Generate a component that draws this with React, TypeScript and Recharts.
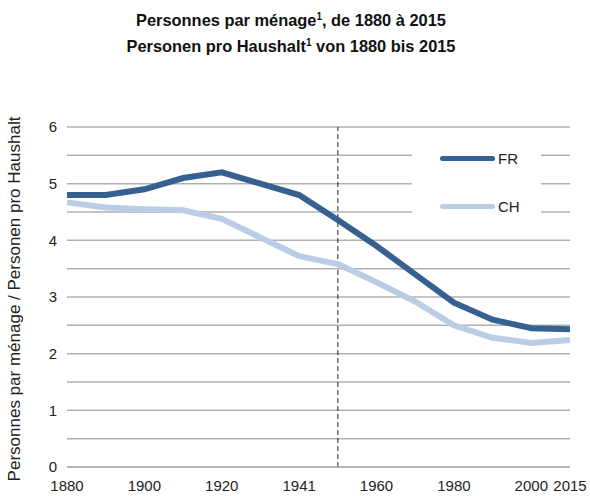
import { CartesianGrid, Line, LineChart, ReferenceLine, XAxis, YAxis } from 'recharts';

const years = ['1880', '1888', '1900', '1910', '1920', '1930', '1941', '1950', '1960', '1970', '1980', '1990', '2000', '2015'];
const frValues = [4.8, 4.8, 4.9, 5.1, 5.2, 5.0, 4.8, 4.36, 3.9, 3.4, 2.9, 2.6, 2.45, 2.43];
const chValues = [4.67, 4.58, 4.55, 4.53, 4.38, 4.05, 3.72, 3.58, 3.26, 2.92, 2.5, 2.28, 2.19, 2.24];
const xTicks = ['1880', '1900', '1920', '1941', '1960', '1980', '2000', '2015'];
const yTicks = [0, 1, 2, 3, 4, 5, 6];
const gridValues = [0, 0.5, 1, 1.5, 2, 2.5, 3, 3.5, 4, 4.5, 5, 5.5, 6];
const markerYear = '1950';
const legendItems = [
  { name: 'FR', color: '#35608f' },
  { name: 'CH', color: '#b9cde5' },
];

const FR_COLOR = legendItems[0].color;
const CH_COLOR = legendItems[1].color;
const FONT = '"Liberation Sans", Arial, sans-serif';

const data = years.map((year, i) => ({ year, FR: frValues[i], CH: chValues[i] }));

const LegendBox = () => (
  <div style={{ position: 'absolute', left: 412, top: 135, width: 129, height: 88, background: '#fff', fontSize: 15, color: '#222' }}>
    {legendItems.map((item, i) => (
      <div key={item.name} style={{ position: 'absolute', left: 28, top: 23 + i * 48 - 9, height: 18, display: 'flex', alignItems: 'center' }}>
        <div style={{ width: 55, height: 5, borderRadius: 3, background: item.color }} />
        <span style={{ marginLeft: 3 }}>{item.name}</span>
      </div>
    ))}
  </div>
);

const titleStyle = {
  position: 'absolute' as const,
  left: 0,
  width: 590,
  textAlign: 'center' as const,
  fontWeight: 'bold' as const,
  fontSize: 16.4,
  color: '#111',
  lineHeight: '20px',
  height: 20,
};
const supStyle = { fontSize: 10, lineHeight: 0, verticalAlign: 'super' as const };

export default function App() {
  return (
    <div style={{ position: 'absolute', left: 0, top: 0, width: 590, height: 496, background: '#fff', fontFamily: FONT }}>
      <div style={{ ...titleStyle, top: 10, marginLeft: -4 }}>
        Personnes par ménage<span style={supStyle}>1</span>, de 1880 à 2015
      </div>
      <div style={{ ...titleStyle, top: 36, marginLeft: -4 }}>
        Personen pro Haushalt<span style={supStyle}>1</span> von 1880 bis 2015
      </div>
      <div
        style={{
          position: 'absolute',
          left: 15,
          top: 299,
          transform: 'translate(-50%, -50%) rotate(-90deg)',
          whiteSpace: 'nowrap',
          fontSize: 17,
          color: '#222',
        }}
      >
        Personnes par ménage / Personen pro Haushalt
      </div>
      <div style={{ position: 'absolute', left: 0, top: 0 }}>
        <LineChart width={590} height={496} data={data} margin={{ top: 127, right: 20, bottom: 0, left: 0 }}>
          <CartesianGrid vertical={false} horizontalValues={gridValues} stroke="#b0b0b0" strokeWidth={1.5} />
          <XAxis
            dataKey="year"
            ticks={xTicks}
            interval={0}
            height={29}
            tickSize={0}
            tickMargin={13}
            fontSize={15}
            axisLine={{ stroke: '#b0b0b0', strokeWidth: 1.5 }}
            tick={{ fill: '#222', fontSize: 15, fontFamily: FONT }}
          />
          <YAxis
            type="number"
            domain={[0, 6]}
            ticks={yTicks}
            width={67}
            tickSize={0}
            tickMargin={10}
            fontSize={15}
            axisLine={false}
            tick={{ fill: '#222', fontSize: 15, fontFamily: FONT }}
          />
          <ReferenceLine x={markerYear} stroke="#222" strokeWidth={1} strokeDasharray="5 3" />
          <Line type="linear" dataKey="CH" stroke={CH_COLOR} strokeWidth={6} dot={false} isAnimationActive={false} />
          <Line type="linear" dataKey="FR" stroke={FR_COLOR} strokeWidth={6} dot={false} isAnimationActive={false} />
        </LineChart>
      </div>
      <LegendBox />
    </div>
  );
}
